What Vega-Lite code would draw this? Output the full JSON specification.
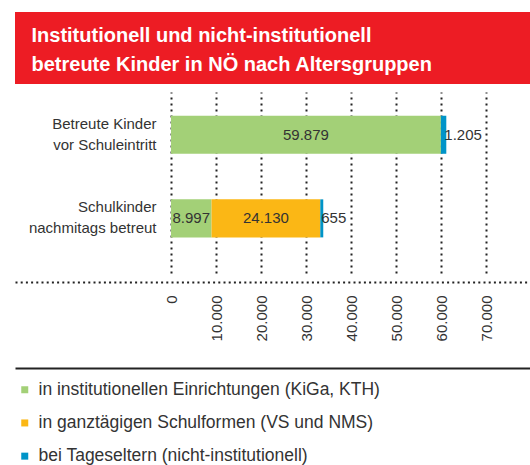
{
  "$schema": "https://vega.github.io/schema/vega-lite/v6.json",
  "padding": {"left": 15, "top": 12, "right": 0, "bottom": 0},
  "background": "white",
  "config": {
    "locale": {"number": {"decimal": ",", "thousands": ".", "grouping": [3], "currency": ["", " €"]}},
    "font": "Liberation Sans",
    "view": {"stroke": null}
  },
  "spacing": 8,
  "resolve": {"scale": {"color": "independent"}, "legend": {"color": "independent"}},
  "vconcat": [
    {
      "width": 515,
      "height": 72,
      "view": {"fill": "#ED1C24", "stroke": null},
      "data": {"values": [{"titel": "Institutionell und nicht-institutionell\nbetreute Kinder in NÖ nach Altersgruppen"}]},
      "mark": {"type": "text", "align": "left", "baseline": "alphabetic", "dx": -241, "dy": -6, "lineBreak": "\n", "lineHeight": 29, "font": "Liberation Sans", "fontSize": 20, "fontWeight": "bold", "color": "white"},
      "encoding": {"text": {"field": "titel", "type": "nominal"}}
    },
    {
      "width": 515,
      "height": 181,
      "data": {"values": [
        {"gruppe": "Betreute Kinder\nvor Schuleintritt", "art": "in institutionellen Einrichtungen (KiGa, KTH)", "anzahl": 59879},
        {"gruppe": "Betreute Kinder\nvor Schuleintritt", "art": "bei Tageseltern (nicht-institutionell)", "anzahl": 1205},
        {"gruppe": "Schulkinder\nnachmitags betreut", "art": "in institutionellen Einrichtungen (KiGa, KTH)", "anzahl": 8997},
        {"gruppe": "Schulkinder\nnachmitags betreut", "art": "in ganztägigen Schulformen (VS und NMS)", "anzahl": 24130},
        {"gruppe": "Schulkinder\nnachmitags betreut", "art": "bei Tageseltern (nicht-institutionell)", "anzahl": 655}
      ]},
      "transform": [{"stack": "anzahl", "groupby": ["gruppe"], "as": ["x0", "x1"]}],
      "resolve": {"axis": {"x": "independent"}},
      "encoding": {
        "y": {
          "field": "gruppe", "type": "nominal", "sort": null, "title": null,
          "scale": {"paddingInner": 0.545, "paddingOuter": 0.355, "align": 0.4},
          "axis": {"orient": "left", "offset": -156, "domain": false, "ticks": false, "grid": false, "labelPadding": 15, "labelOffset": -11, "labelFontSize": 15, "labelColor": "#333", "labelLineHeight": 21, "labelLimit": 300, "labelExpr": "split(datum.label, '\\n')"}
        }
      },
      "layer": [
        {
          "mark": {"type": "bar"},
          "encoding": {
            "x": {
              "field": "x0", "type": "quantitative", "title": null,
              "scale": {"domain": [-34613, 79654], "nice": false, "zero": false},
              "axis": {"orient": "bottom", "offset": 9, "values": [0, 10000, 20000, 30000, 40000, 50000, 60000, 70000], "format": ",d", "grid": true, "gridDash": [2, 4], "gridColor": "#222", "gridWidth": 2, "domain": true, "domainDash": [2, 3.2], "domainColor": "#222", "domainWidth": 2, "ticks": false, "labelAngle": -90, "labelPadding": 13, "labelFontSize": 15, "labelColor": "#333"}
            },
            "x2": {"field": "x1"},
            "color": {
              "field": "art", "type": "nominal",
              "scale": {"domain": ["in institutionellen Einrichtungen (KiGa, KTH)", "in ganztägigen Schulformen (VS und NMS)", "bei Tageseltern (nicht-institutionell)"], "range": ["#A3D077", "#FBB715", "#0094C8"]},
              "legend": {"orient": "none", "legendX": 1, "legendY": 289, "title": null, "direction": "vertical", "symbolType": "square", "symbolSize": 49, "symbolStrokeWidth": 0, "labelFontSize": 17.5, "labelColor": "#333", "labelOffset": 5, "rowPadding": 14.2, "padding": 0, "labelLimit": 500}
            }
          }
        },
        {
          "transform": [
            {"filter": "datum.art !== 'bei Tageseltern (nicht-institutionell)'"},
            {"fold": ["x0", "x1"], "as": ["ende", "pos"]}
          ],
          "mark": {"type": "text", "fontSize": 15, "color": "#333", "baseline": "middle", "align": "center"},
          "encoding": {
            "x": {"aggregate": "mean", "field": "pos", "type": "quantitative", "axis": null, "title": null},
            "detail": {"field": "art", "type": "nominal"},
            "text": {"field": "anzahl", "type": "quantitative", "format": ",d"}
          }
        },
        {
          "transform": [{"filter": "datum.art === 'bei Tageseltern (nicht-institutionell)'"}],
          "mark": {"type": "text", "fontSize": 15, "color": "#333", "baseline": "middle", "align": "left", "dx": -2},
          "encoding": {
            "x": {"field": "x1", "type": "quantitative", "title": null, "axis": {"orient": "bottom", "offset": 95, "domainColor": "#222", "domainWidth": 2, "labels": false, "ticks": false, "grid": false}},
            "text": {"field": "anzahl", "type": "quantitative", "format": ",d"}
          }
        }
      ]
    }
  ]
}
